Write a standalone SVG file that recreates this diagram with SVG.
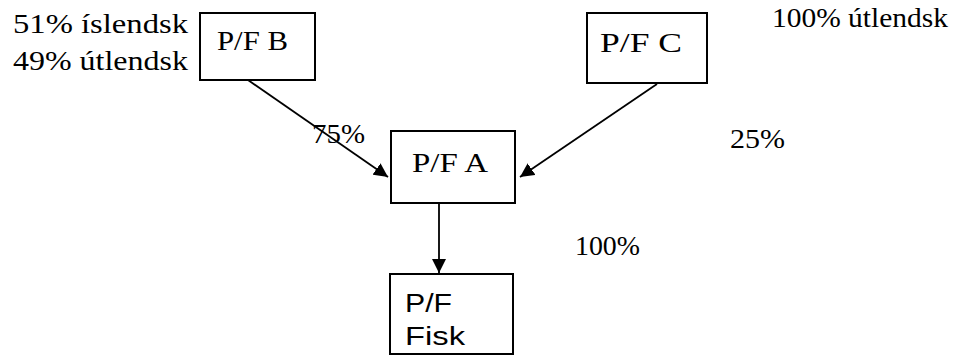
<svg xmlns="http://www.w3.org/2000/svg" width="967" height="356" viewBox="0 0 967 356">
<style>
.box{fill:#fff;stroke:#000;stroke-width:2}
.t{font-family:"Liberation Serif","DejaVu Serif","Times New Roman",serif;font-size:27px;fill:#000}
.s{font-family:"Liberation Sans",Arial,sans-serif;font-size:25px;fill:#000}
.c{stroke:#000;stroke-width:1.8;fill:none}
</style>
<defs>
<marker id="ah" markerUnits="userSpaceOnUse" markerWidth="15" markerHeight="14" refX="14" refY="7" orient="auto">
<path d="M0,0 L14,7 L0,14 z" fill="#000"/>
</marker>
</defs>
<rect width="967" height="356" fill="#fff"/>
<g id="labels">
<text class="t" x="13" y="33" textLength="175" lengthAdjust="spacingAndGlyphs">51% íslendsk</text>
<text class="t" x="13" y="70" textLength="175" lengthAdjust="spacingAndGlyphs">49% útlendsk</text>
<text class="t" x="772" y="27" textLength="176" lengthAdjust="spacingAndGlyphs">100% útlendsk</text>
<text class="t" x="730" y="148" textLength="55" lengthAdjust="spacingAndGlyphs">25%</text>
<text class="t" x="575" y="255" textLength="65" lengthAdjust="spacingAndGlyphs">100%</text>
</g>
<g id="connectors">
<line class="c" x1="248" y1="80" x2="388" y2="177" marker-end="url(#ah)"/>
<line class="c" x1="657" y1="84" x2="520" y2="177" marker-end="url(#ah)"/>
<line class="c" x1="439" y1="203" x2="439" y2="273" marker-end="url(#ah)"/>
</g>
<g id="node-b">
<rect class="box" x="200" y="13" width="115" height="67"/>
<text class="t" x="217" y="50" textLength="71" lengthAdjust="spacingAndGlyphs">P/F B</text>
</g>
<g id="node-c">
<rect class="box" x="587" y="13" width="120" height="70"/>
<text class="t" x="600" y="52" textLength="82" lengthAdjust="spacingAndGlyphs">P/F C</text>
</g>
<g id="node-a">
<rect class="box" x="391" y="131" width="124" height="72"/>
<text class="t" x="412" y="172" textLength="76" lengthAdjust="spacingAndGlyphs">P/F A</text>
</g>
<g id="node-fisk">
<rect class="box" x="390" y="274" width="123" height="80"/>
<text class="s" x="405" y="312" textLength="47" lengthAdjust="spacingAndGlyphs">P/F</text>
<text class="s" x="405" y="345" textLength="60" lengthAdjust="spacingAndGlyphs">Fisk</text>
</g>
<g id="label-75">
<text class="t" x="312" y="143" textLength="53" lengthAdjust="spacingAndGlyphs">75%</text>
</g>
</svg>
